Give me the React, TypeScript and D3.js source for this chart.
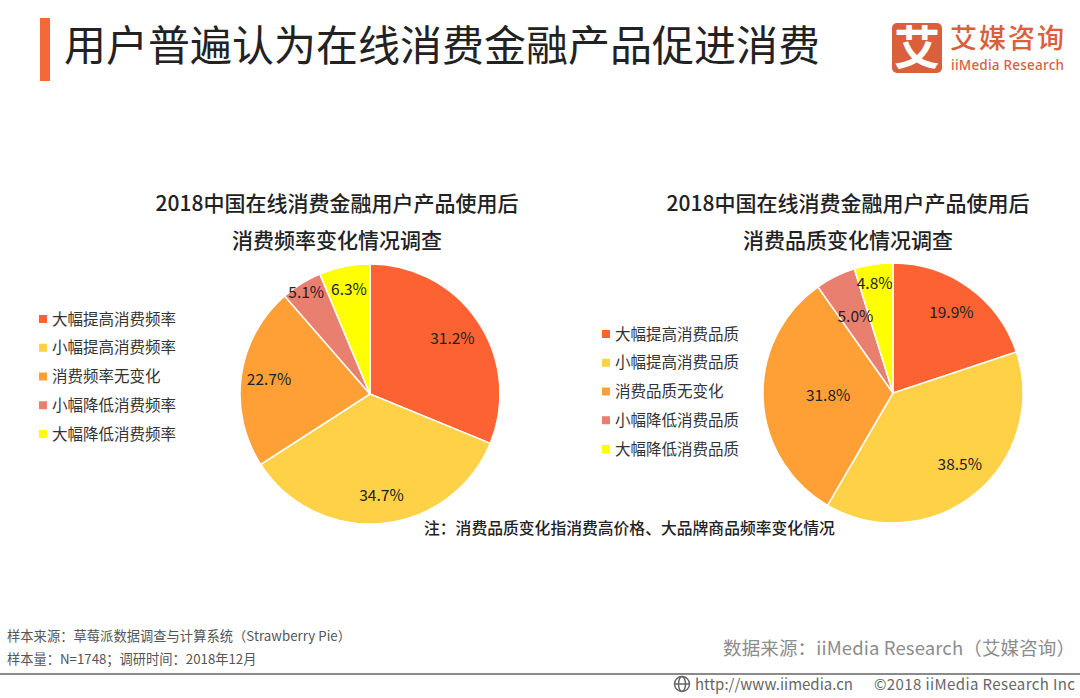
import * as d3 from 'd3';

const FONT = "'Noto Sans CJK SC', 'Noto Sans', sans-serif";

const colors = ['#FC6232', '#FFD147', '#FFA037', '#E97F6E', '#FFFF00'];

const freqLabels = ['大幅提高消费频率', '小幅提高消费频率', '消费频率无变化', '小幅降低消费频率', '大幅降低消费频率'];
const freqValues = [31.2, 34.7, 22.7, 5.1, 6.3];
const qualLabels = ['大幅提高消费品质', '小幅提高消费品质', '消费品质无变化', '小幅降低消费品质', '大幅降低消费品质'];
const qualValues = [19.9, 38.5, 31.8, 5.0, 4.8];

type PieProps = {
  cx: number;
  cy: number;
  r: number;
  values: number[];
  labelR: number[];
  nudge: number[]; // sideways shift of each label, the original is hand placed
};

const Pie = ({ cx, cy, r, values, labelR, nudge }: PieProps) => {
  const arcs = d3.pie<number>().sort(null)(values);
  const arc = d3.arc<d3.PieArcDatum<number>>().innerRadius(0).outerRadius(r);
  return (
    <g transform={`translate(${cx},${cy})`}>
      {arcs.map((d, i) => (
        <path key={i} d={arc(d) ?? undefined} fill={colors[i]} stroke='#fff' strokeWidth={1.5} />
      ))}
      {arcs.map((d, i) => {
        const [x, y] = d3.arc<d3.PieArcDatum<number>>().innerRadius(labelR[i]).outerRadius(labelR[i]).centroid(d);
        return (
          <text key={i} x={x + nudge[i]} y={y - Math.abs(nudge[i])} dy='0.35em' textAnchor='middle' fontSize={15.5} fill='#222'>
            {d3.format('.1f')(values[i])}%
          </text>
        );
      })}
    </g>
  );
};

const Legend = ({ x, y, labels }: { x: number; y: number; labels: string[] }) => {
  const yScale = d3.scalePoint<string>().domain(labels).range([y, y + 115]);
  return (
    <g>
      {labels.map((l, i) => (
        <g key={l} transform={`translate(${x},${yScale(l)})`}>
          <rect x={0} y={-4} width={8} height={8} fill={colors[i]} />
          <text x={13} dy='0.36em' fontSize={15.5} fill='#333'>{l}</text>
        </g>
      ))}
    </g>
  );
};

export default function App() {
  return (
    <svg width={1080} height={698} fontFamily={FONT} style={{ position: 'absolute', left: 0, top: 0, background: '#fff' }}>
      <rect x={40} y={18} width={10} height={63} fill='#F4683A' />
      <text x={64} y={61} fontSize={42} fill='#222'>用户普遍认为在线消费金融产品促进消费</text>

      <rect x={892} y={23} width={50} height={50} rx={5} fill='#D9603B' />
      <text x={917} y={64} textAnchor='middle' fontSize={46} fontWeight={700} fill='#fff'>艾</text>
      <text x={950} y={47.5} fontSize={27} fontWeight={500} fill='#D9603B' textLength={114}>艾媒咨询</text>
      <text x={951} y={70} fontSize={13.5} fontWeight={500} fill='#D9603B' fontFamily="'Noto Sans', sans-serif" textLength={113}>iiMedia Research</text>

      <g fontSize={21} fontWeight={500} fill='#222' textAnchor='middle'>
        <text x={337} y={211}>2018中国在线消费金融用户产品使用后</text>
        <text x={337} y={248}>消费频率变化情况调查</text>
        <text x={848} y={211}>2018中国在线消费金融用户产品使用后</text>
        <text x={848} y={248}>消费品质变化情况调查</text>
      </g>

      <Legend x={39} y={319} labels={freqLabels} />
      <Pie cx={370} cy={394} r={130} values={freqValues} labelR={[98, 104, 102, 117, 107]} nudge={[1, 2, 0, -2, 0]} />

      <Legend x={602} y={334} labels={qualLabels} />
      <Pie cx={893} cy={393} r={130} values={qualValues} labelR={[98, 98, 65, 85, 109]} nudge={[1, 5, 0, 0, -2]} />

      <text x={424} y={534} fontSize={15.8} fontWeight={500} fill='#222'>注：消费品质变化指消费高价格、大品牌商品频率变化情况</text>

      <g fontSize={13.25} fill='#555'>
        <text x={7} y={641} textLength={344}>样本来源：草莓派数据调查与计算系统（Strawberry Pie）</text>
        <text x={7} y={664}>样本量：N=1748；调研时间：2018年12月</text>
      </g>
      <text x={723} y={655} fontSize={18.5} fill='#8c8c8c' textLength={352}>数据来源：iiMedia Research（艾媒咨询）</text>

      <rect x={0} y={673} width={1080} height={2} fill='#8a8a8a' />
      <g fill='none' stroke='#666' strokeWidth={1.5}>
        <circle cx={682} cy={684} r={7.5} />
        <ellipse cx={682} cy={684} rx={3.5} ry={7.5} />
        <path d='M675 684H689' />
      </g>
      <g fontSize={15} fill='#666'>
        <text x={695} y={690}>http://www.iimedia.cn</text>
        <text x={874} y={690} textLength={201}>©2018 iiMedia Research Inc</text>
      </g>
    </svg>
  );
}
